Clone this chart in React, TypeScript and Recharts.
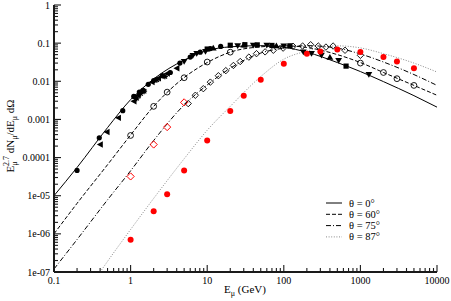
import React from 'react';
import { ComposedChart, Line, Scatter, XAxis, YAxis, Legend } from 'recharts';

const FONT = '"Liberation Serif", "Times New Roman", "DejaVu Serif", serif';

// ---- model curves ----
const curveE = [0.1, 0.2, 0.5, 1, 2, 5, 10, 20, 50, 100, 200, 500, 1000, 2000, 5000, 10000];
const theta0Curve = [1.0e-5, 5.5e-5, 6.1e-4, 3.3e-3, 0.0115, 0.036, 0.064, 0.08, 0.086, 0.078, 0.058, 0.031, 0.018, 0.0098, 0.0042, 0.0021];
const theta60Curve = [1.0e-6, 6.3e-6, 6.5e-5, 3.9e-4, 2.2e-3, 0.0125, 0.031, 0.058, 0.08, 0.085, 0.077, 0.05, 0.031, 0.017, 0.0078, 0.0043];
const theta75Curve = [1.2e-7, 7.1e-7, 7.8e-6, 4.5e-5, 2.8e-4, 2.4e-3, 8.0e-3, 0.022, 0.055, 0.074, 0.086, 0.074, 0.052, 0.032, 0.015, 0.0078];
const theta87E = [0.4, 0.5, 1, 2, 5, 10, 20, 50, 100, 200, 500, 1000, 2000, 5000, 10000];
const theta87Curve = [1e-7, 1.9e-7, 1.3e-6, 8.5e-6, 9.3e-5, 5.2e-4, 2.2e-3, 0.0133, 0.038, 0.062, 0.085, 0.075, 0.053, 0.03, 0.0175];

// ---- theta = 0 data (several experiments) ----
const circ0E = [0.2, 0.39, 0.79, 1.1, 1.3, 1.45, 1.7, 2.0, 2.6, 3.3, 4.4, 6.0, 8.1, 11, 15];
const circ0V = [4.6e-5, 3.3e-4, 1.7e-3, 4.0e-3, 5.2e-3, 5.8e-3, 8.3e-3, 0.0105, 0.014, 0.017, 0.030, 0.043, 0.058, 0.072, 0.082];
const triL0E = [0.40, 0.49, 0.69, 1.1, 1.25, 1.9, 2.3, 3.0, 4.0];
const triL0V = [2.2e-4, 4.7e-4, 1.1e-3, 3.0e-3, 4.3e-3, 0.0095, 0.012, 0.016, 0.022];
const triD0E = [5.0, 6.5, 7.3, 9.5, 25, 40, 60, 100, 180, 230, 310, 520, 1290];
const triD0V = [0.033, 0.047, 0.053, 0.06, 0.085, 0.088, 0.088, 0.084, 0.058, 0.053, 0.048, 0.035, 0.015];
const triU0E = [12, 30, 80, 400];
const triU0V = [0.075, 0.09, 0.086, 0.043];
const sq0E = [10, 20, 31, 45, 70, 120, 650];
const sq0V = [0.07, 0.088, 0.091, 0.09, 0.087, 0.085, 0.025];
const star0E = [1.2, 1.35, 1.5, 2.2, 2.8];
const star0V = [3.6e-3, 4.8e-3, 5.5e-3, 0.011, 0.0135];

// ---- theta = 60 data ----
const circ60E = [1, 2, 3, 5, 10, 20, 1000, 2000, 3000, 5000];
const circ60V = [3.8e-4, 2.2e-3, 5.2e-3, 0.0124, 0.032, 0.058, 0.030, 0.017, 0.0117, 0.0078];

// ---- theta = 75 data ----
const diam75E = [5.65, 7, 8.9, 11, 14, 17.5, 22, 27, 35, 44, 57, 73, 98, 132, 176, 224, 282, 355, 440, 630, 1000];
const diam75V = [2.6e-3, 4.3e-3, 6.4e-3, 9.5e-3, 0.014, 0.019, 0.026, 0.033, 0.043, 0.053, 0.059, 0.065, 0.074, 0.083, 0.084, 0.091, 0.084, 0.079, 0.084, 0.065, 0.048];
const redDiamE = [1, 2, 3, 5];
const redDiamV = [3.2e-5, 2.2e-4, 6.3e-4, 2.8e-3];

// ---- theta = 87 data ----
const red87E = [1, 2, 3, 5, 10, 20, 30, 50, 100, 200, 300, 500, 1000, 2000, 3000, 5000];
const red87V = [7e-7, 3.9e-6, 1.1e-5, 4.6e-5, 2.8e-4, 1.66e-3, 4.2e-3, 0.011, 0.029, 0.053, 0.060, 0.068, 0.059, 0.043, 0.033, 0.022];

// ---- axes ----
const X_MAJOR = [0.1, 1, 10, 100, 1000, 10000];
const X_LABELS = ['0.1', '1', '10', '100', '1000', '10000'];
const Y_MAJOR = [1e-7, 1e-6, 1e-5, 1e-4, 1e-3, 1e-2, 1e-1, 1];
const Y_LABELS = ['1e-07', '1e-06', '1e-05', '0.0001', '0.001', '0.01', '0.1', '1'];
const MINOR_MULT = [2, 3, 4, 5, 6, 7, 8, 9];

const LEGEND_LABELS = ['θ = 0°', 'θ = 60°', 'θ = 75°', 'θ = 87°'];

const pts = (xs: number[], ys: number[]) => xs.map((x, i) => ({ x, y: ys[i] }));
const withMinor = (majors: number[]) => {
  const out: number[] = [];
  majors.forEach((m, i) => {
    out.push(m);
    if (i < majors.length - 1) MINOR_MULT.forEach((k) => out.push(m * k));
  });
  return out;
};
const X_TICKS = withMinor(X_MAJOR);
const Y_TICKS = withMinor(Y_MAJOR);
const majorIdx = (v: number, majors: number[]) =>
  majors.findIndex((m) => Math.abs(Math.log10(v) - Math.log10(m)) < 1e-6);

const AX = '#1a1a1a';
const MAJ = 7;
const MIN = 4;

const BottomTick = (p: any) => {
  const { x, y, payload } = p;
  const i = majorIdx(payload.value, X_MAJOR);
  return (
    <g>
      <line x1={x} y1={y} x2={x} y2={y - (i >= 0 ? MAJ : MIN)} stroke={AX} strokeWidth={1.1} />
      {i >= 0 && (
        <text x={x} y={y + 12} textAnchor="middle" fontSize={10} fontFamily={FONT} fill="#000">
          {X_LABELS[i]}
        </text>
      )}
    </g>
  );
};
const TopTick = (p: any) => {
  const { x, y, payload } = p;
  const i = majorIdx(payload.value, X_MAJOR);
  return <line x1={x} y1={y} x2={x} y2={y + (i >= 0 ? MAJ : MIN)} stroke={AX} strokeWidth={1.1} />;
};
const LeftTick = (p: any) => {
  const { x, y, payload } = p;
  const i = majorIdx(payload.value, Y_MAJOR);
  return (
    <g>
      <line x1={x} y1={y} x2={x + (i >= 0 ? MAJ : MIN)} y2={y} stroke={AX} strokeWidth={1.1} />
      {i >= 0 && (
        <text x={x - 4} y={y + 3.5} textAnchor="end" fontSize={10} fontFamily={FONT} fill="#000">
          {Y_LABELS[i]}
        </text>
      )}
    </g>
  );
};
const RightTick = (p: any) => {
  const { x, y, payload } = p;
  const i = majorIdx(payload.value, Y_MAJOR);
  return <line x1={x} y1={y} x2={x - (i >= 0 ? MAJ : MIN)} y2={y} stroke={AX} strokeWidth={1.1} />;
};

// ---- markers ----
const dotBlack = (p: any) => <circle cx={p.cx} cy={p.cy} r={2.6} fill="#000" />;
const triLeft = (p: any) => {
  const { cx, cy } = p;
  return <polygon points={`${cx - 3.3},${cy} ${cx + 2.7},${cy - 3.2} ${cx + 2.7},${cy + 3.2}`} fill="#000" />;
};
const triDown = (p: any) => {
  const { cx, cy } = p;
  return <polygon points={`${cx - 3.4},${cy - 2.6} ${cx + 3.4},${cy - 2.6} ${cx},${cy + 3.2}`} fill="#000" />;
};
const triUp = (p: any) => {
  const { cx, cy } = p;
  return <polygon points={`${cx - 3.4},${cy + 2.6} ${cx + 3.4},${cy + 2.6} ${cx},${cy - 3.2}`} fill="#000" />;
};
const square = (p: any) => <rect x={p.cx - 2.6} y={p.cy - 2.6} width={5.2} height={5.2} fill="#000" />;
const star = (p: any) => {
  const { cx, cy } = p;
  const r = 3;
  return (
    <path
      d={`M${cx - r},${cy} L${cx + r},${cy} M${cx},${cy - r} L${cx},${cy + r} M${cx - 2.2},${cy - 2.2} L${cx + 2.2},${cy + 2.2} M${cx - 2.2},${cy + 2.2} L${cx + 2.2},${cy - 2.2}`}
      stroke="#000"
      strokeWidth={1.3}
    />
  );
};
const openCircle = (p: any) => <circle cx={p.cx} cy={p.cy} r={2.9} fill="none" stroke="#000" strokeWidth={0.9} />;
const openDiamond = (p: any) => {
  const { cx, cy } = p;
  const s = 3.2;
  return <polygon points={`${cx},${cy - s} ${cx + s},${cy} ${cx},${cy + s} ${cx - s},${cy}`} fill="none" stroke="#000" strokeWidth={0.9} />;
};
const redDiamond = (p: any) => {
  const { cx, cy } = p;
  const s = 3.6;
  return <polygon points={`${cx},${cy - s} ${cx + s},${cy} ${cx},${cy + s} ${cx - s},${cy}`} fill="none" stroke="#ff0000" strokeWidth={1} />;
};
const redDot = (p: any) => <circle cx={p.cx} cy={p.cy} r={3} fill="#ff0000" />;

const LINE_STYLES = [
  { stroke: '#000', dash: undefined as string | undefined },
  { stroke: '#000', dash: '4 2' },
  { stroke: '#000', dash: '5 2 1 2' },
  { stroke: '#8a8a8a', dash: '1 1.6' },
];

const renderLegend = () => (
  <svg width={110} height={50} style={{ display: 'block' }}>
    {LEGEND_LABELS.map((lab, i) => {
      const y = 5 + i * 11.3;
      return (
        <g key={lab}>
          <line x1={0} x2={16} y1={y} y2={y} stroke={LINE_STYLES[i].stroke} strokeDasharray={LINE_STYLES[i].dash} strokeWidth={1} />
          <text x={23} y={y + 3.5} fontSize={10.5} fontFamily={FONT} fill="#000">
            {lab}
          </text>
        </g>
      );
    })}
  </svg>
);

const yTitle = () => (
  <text transform="rotate(-90, 14, 136)" x={14} y={136} textAnchor="middle" fontSize={11} fontFamily={FONT} fill="#000">
    E
    <tspan dy={3} fontSize={8}>μ</tspan>
    <tspan dx={-4.6} dy={-8} fontSize={8}>2.7</tspan>
    <tspan dy={5}> dN</tspan>
    <tspan dy={3} fontSize={8}>μ</tspan>
    <tspan dy={-3}>/dE</tspan>
    <tspan dy={3} fontSize={8}>μ</tspan>
    <tspan dy={-3}> dΩ</tspan>
  </text>
);

const xTitle = () => (
  <text x={245} y={293} textAnchor="middle" fontSize={11} fontFamily={FONT} fill="#000">
    E
    <tspan dy={3} fontSize={8}>μ</tspan>
    <tspan dy={-3}> (GeV)</tspan>
  </text>
);

export default function App() {
  return (
    <div style={{ position: 'absolute', left: 0, top: 0, background: '#fff' }}>
      <ComposedChart width={451} height={301} margin={{ top: 5, right: 14, bottom: 0, left: 0 }}>
        <XAxis
          xAxisId={0}
          dataKey="x"
          type="number"
          scale="log"
          domain={[0.1, 10000]}
          allowDataOverflow
          ticks={X_TICKS}
          interval={0}
          tickSize={0}
          tickMargin={0}
          tickLine={false}
          tick={BottomTick}
          axisLine={{ stroke: AX, strokeWidth: 2 }}
          height={29}
          label={xTitle}
        />
        <XAxis
          xAxisId="top"
          orientation="top"
          dataKey="x"
          type="number"
          scale="log"
          domain={[0.1, 10000]}
          allowDataOverflow
          ticks={X_TICKS}
          interval={0}
          tickSize={0}
          tickMargin={0}
          tickLine={false}
          tick={TopTick}
          axisLine={{ stroke: AX, strokeWidth: 2 }}
          height={0}
        />
        <YAxis
          yAxisId={0}
          type="number"
          scale="log"
          domain={[1e-7, 1]}
          allowDataOverflow
          ticks={Y_TICKS}
          interval={0}
          tickSize={0}
          tickMargin={0}
          tickLine={false}
          tick={LeftTick}
          axisLine={{ stroke: AX, strokeWidth: 2 }}
          width={54}
          label={yTitle}
        />
        <YAxis
          yAxisId="right"
          orientation="right"
          type="number"
          scale="log"
          domain={[1e-7, 1]}
          allowDataOverflow
          ticks={Y_TICKS}
          interval={0}
          tickSize={0}
          tickMargin={0}
          tickLine={false}
          tick={RightTick}
          axisLine={{ stroke: AX, strokeWidth: 2 }}
          width={0}
        />
        <Legend layout="vertical" align="center" verticalAlign="middle" content={renderLegend}
          wrapperStyle={{ position: 'absolute', left: 326, top: 198, width: 110, height: 50 }} />

        <Line data={pts(curveE, theta0Curve)} dataKey="y" type="monotone" stroke="#000" strokeWidth={1} dot={false} isAnimationActive={false} />
        <Line data={pts(curveE, theta60Curve)} dataKey="y" type="monotone" stroke="#000" strokeWidth={1} strokeDasharray="4 2" dot={false} isAnimationActive={false} />
        <Line data={pts(curveE, theta75Curve)} dataKey="y" type="monotone" stroke="#000" strokeWidth={1} strokeDasharray="5 2 1 2" dot={false} isAnimationActive={false} />
        <Line data={pts(theta87E, theta87Curve)} dataKey="y" type="monotone" stroke="#8a8a8a" strokeWidth={1} strokeDasharray="1 1.6" dot={false} isAnimationActive={false} />

        <Scatter data={pts(circ0E, circ0V)} dataKey="y" shape={dotBlack} isAnimationActive={false} />
        <Scatter data={pts(triL0E, triL0V)} dataKey="y" shape={triLeft} isAnimationActive={false} />
        <Scatter data={pts(triD0E, triD0V)} dataKey="y" shape={triDown} isAnimationActive={false} />
        <Scatter data={pts(triU0E, triU0V)} dataKey="y" shape={triUp} isAnimationActive={false} />
        <Scatter data={pts(sq0E, sq0V)} dataKey="y" shape={square} isAnimationActive={false} />
        <Scatter data={pts(star0E, star0V)} dataKey="y" shape={star} isAnimationActive={false} />
        <Scatter data={pts(circ60E, circ60V)} dataKey="y" shape={openCircle} isAnimationActive={false} />
        <Scatter data={pts(diam75E, diam75V)} dataKey="y" shape={openDiamond} isAnimationActive={false} />
        <Scatter data={pts(redDiamE, redDiamV)} dataKey="y" shape={redDiamond} isAnimationActive={false} />
        <Scatter data={pts(red87E, red87V)} dataKey="y" shape={redDot} isAnimationActive={false} />
      </ComposedChart>
    </div>
  );
}
